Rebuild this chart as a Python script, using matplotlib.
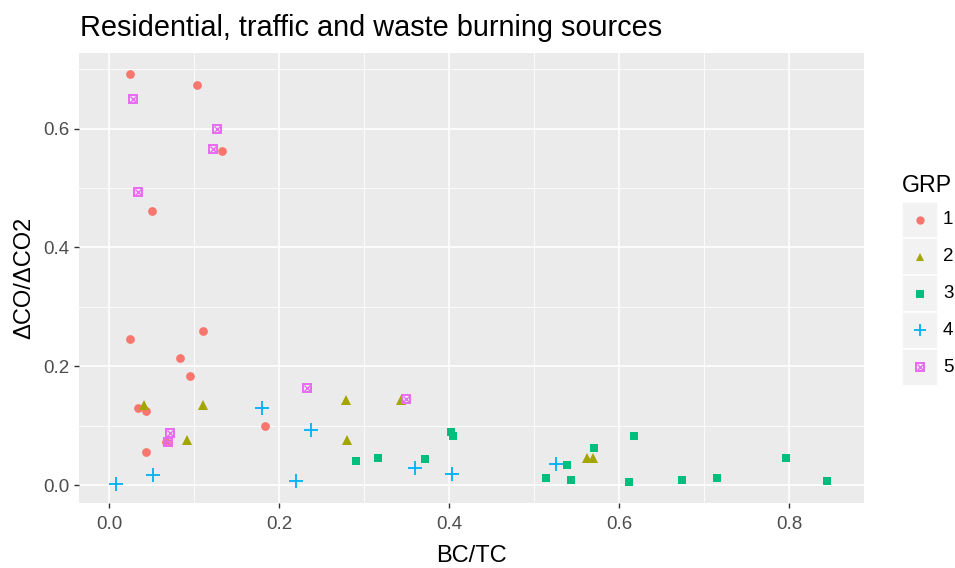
import matplotlib
matplotlib.use('Agg')
import matplotlib.pyplot as plt
from matplotlib.patches import Rectangle
from matplotlib.ticker import MultipleLocator, FormatStrFormatter

plt.rcParams['font.family'] = ['Liberation Sans', 'DejaVu Sans']

# group 1 .. 5, BC/TC (x) and dCO/dCO2 (y)
bc1 = [0.025, 0.104, 0.133, 0.051, 0.025, 0.110, 0.083, 0.095, 0.034, 0.044, 0.184, 0.067, 0.044]
co1 = [0.692, 0.673, 0.562, 0.462, 0.246, 0.259, 0.214, 0.184, 0.130, 0.125, 0.100, 0.073, 0.055]
bc2 = [0.041, 0.110, 0.092, 0.279, 0.344, 0.280, 0.562, 0.569]
co2 = [0.134, 0.134, 0.076, 0.143, 0.143, 0.076, 0.045, 0.045]
bc3 = [0.291, 0.316, 0.372, 0.402, 0.405, 0.514, 0.539, 0.543, 0.570, 0.618, 0.612, 0.674, 0.715, 0.796, 0.845]
co3 = [0.041, 0.046, 0.044, 0.090, 0.082, 0.012, 0.033, 0.008, 0.063, 0.082, 0.005, 0.009, 0.011, 0.046, 0.007]
bc4 = [0.008, 0.052, 0.180, 0.238, 0.220, 0.360, 0.403, 0.526]
co4 = [0.001, 0.017, 0.130, 0.093, 0.006, 0.029, 0.019, 0.035]
bc5 = [0.028, 0.127, 0.122, 0.034, 0.233, 0.072, 0.069, 0.349]
co5 = [0.650, 0.599, 0.566, 0.494, 0.164, 0.088, 0.072, 0.145]

groups = ['1', '2', '3', '4', '5']
colors = ['#F8766D', '#A3A500', '#00BF7D', '#00B0F6', '#E76BF3']
xs = [bc1, bc2, bc3, bc4, bc5]
ys = [co1, co2, co3, co4, co5]

W, H = 955, 568
fig = plt.figure(figsize=(W/100, H/100), dpi=100)
fig.patch.set_facecolor('white')
ax = fig.add_axes([79.3/W, 1-503.3/H, (864-79.3)/W, (503.3-53.3)/H])
ax.set_facecolor('#EBEBEB')
for s in ax.spines.values():
  s.set_visible(False)


def draw_marker(a, x, y, i, scale=1.0):
  c = colors[i]
  if i == 0:
    a.plot(x, y, 'o', ms=6.3*scale, mfc=c, mec=c, mew=0, ls='none')
  elif i == 1:
    a.plot(x, y, '^', ms=6.8*scale, mfc=c, mec=c, mew=0, ls='none')
  elif i == 2:
    a.plot(x, y, 's', ms=5.6*scale, mfc=c, mec=c, mew=0, ls='none')
  elif i == 3:
    a.plot(x, y, '+', ms=9.5*scale, mec=c, mew=1.3, ls='none')
  else:
    a.plot(x, y, 's', ms=6.4*scale, mfc='none', mec=c, mew=1.4, ls='none')
    a.plot(x, y, 'x', ms=4.0*scale, mec=c, mew=1.0, ls='none')


for i in range(5):
  draw_marker(ax, xs[i], ys[i], i)

ax.set_xlim(-0.0349, 0.888)
ax.set_ylim(-0.0308, 0.7268)
ax.xaxis.set_major_locator(MultipleLocator(0.2))
ax.xaxis.set_minor_locator(MultipleLocator(0.1))
ax.yaxis.set_major_locator(MultipleLocator(0.2))
ax.yaxis.set_minor_locator(MultipleLocator(0.1))
ax.xaxis.set_major_formatter(FormatStrFormatter('%.1f'))
ax.yaxis.set_major_formatter(FormatStrFormatter('%.1f'))
ax.grid(True, which='major', color='white', lw=1.2)
ax.grid(True, which='minor', color='white', lw=0.6)
ax.set_axisbelow(True)
ax.tick_params(which='major', length=3.3, width=1.0, color='#333333', labelcolor='#4D4D4D',
               labelsize=13.5, pad=4)
ax.tick_params(axis='x', which='major', pad=6)
ax.tick_params(which='minor', length=0)

fig.text(471.7/W, 1-562/H, 'BC/TC', fontsize=17, ha='center', va='baseline')
fig.text(24/W, 1-278/H, 'ΔCO/ΔCO2', rotation=90, fontsize=17, ha='center', va='center')
fig.text(80/W, 1-36/H, 'Residential, traffic and waste burning sources', fontsize=20.8,
         ha='left', va='baseline')

# legend
lg = fig.add_axes([0, 0, 1, 1], facecolor='none')
lg.set_xlim(0, W)
lg.set_ylim(H, 0)
lg.axis('off')
fig.text(902/W, 1-192/H, 'GRP', fontsize=16.7, ha='left', va='baseline')
ky = 201.5
kh = 36.8
for i in range(5):
  y0 = ky + i*kh
  lg.add_patch(Rectangle((902, y0), 36, kh, facecolor='#F2F2F2', edgecolor='white', lw=1.2))
  draw_marker(lg, 920, y0 + kh/2, i, scale=0.95)
  lg.text(943, y0 + kh/2, groups[i], fontsize=13.5, ha='left', va='center')

fig.savefig('out.png', dpi=100)
